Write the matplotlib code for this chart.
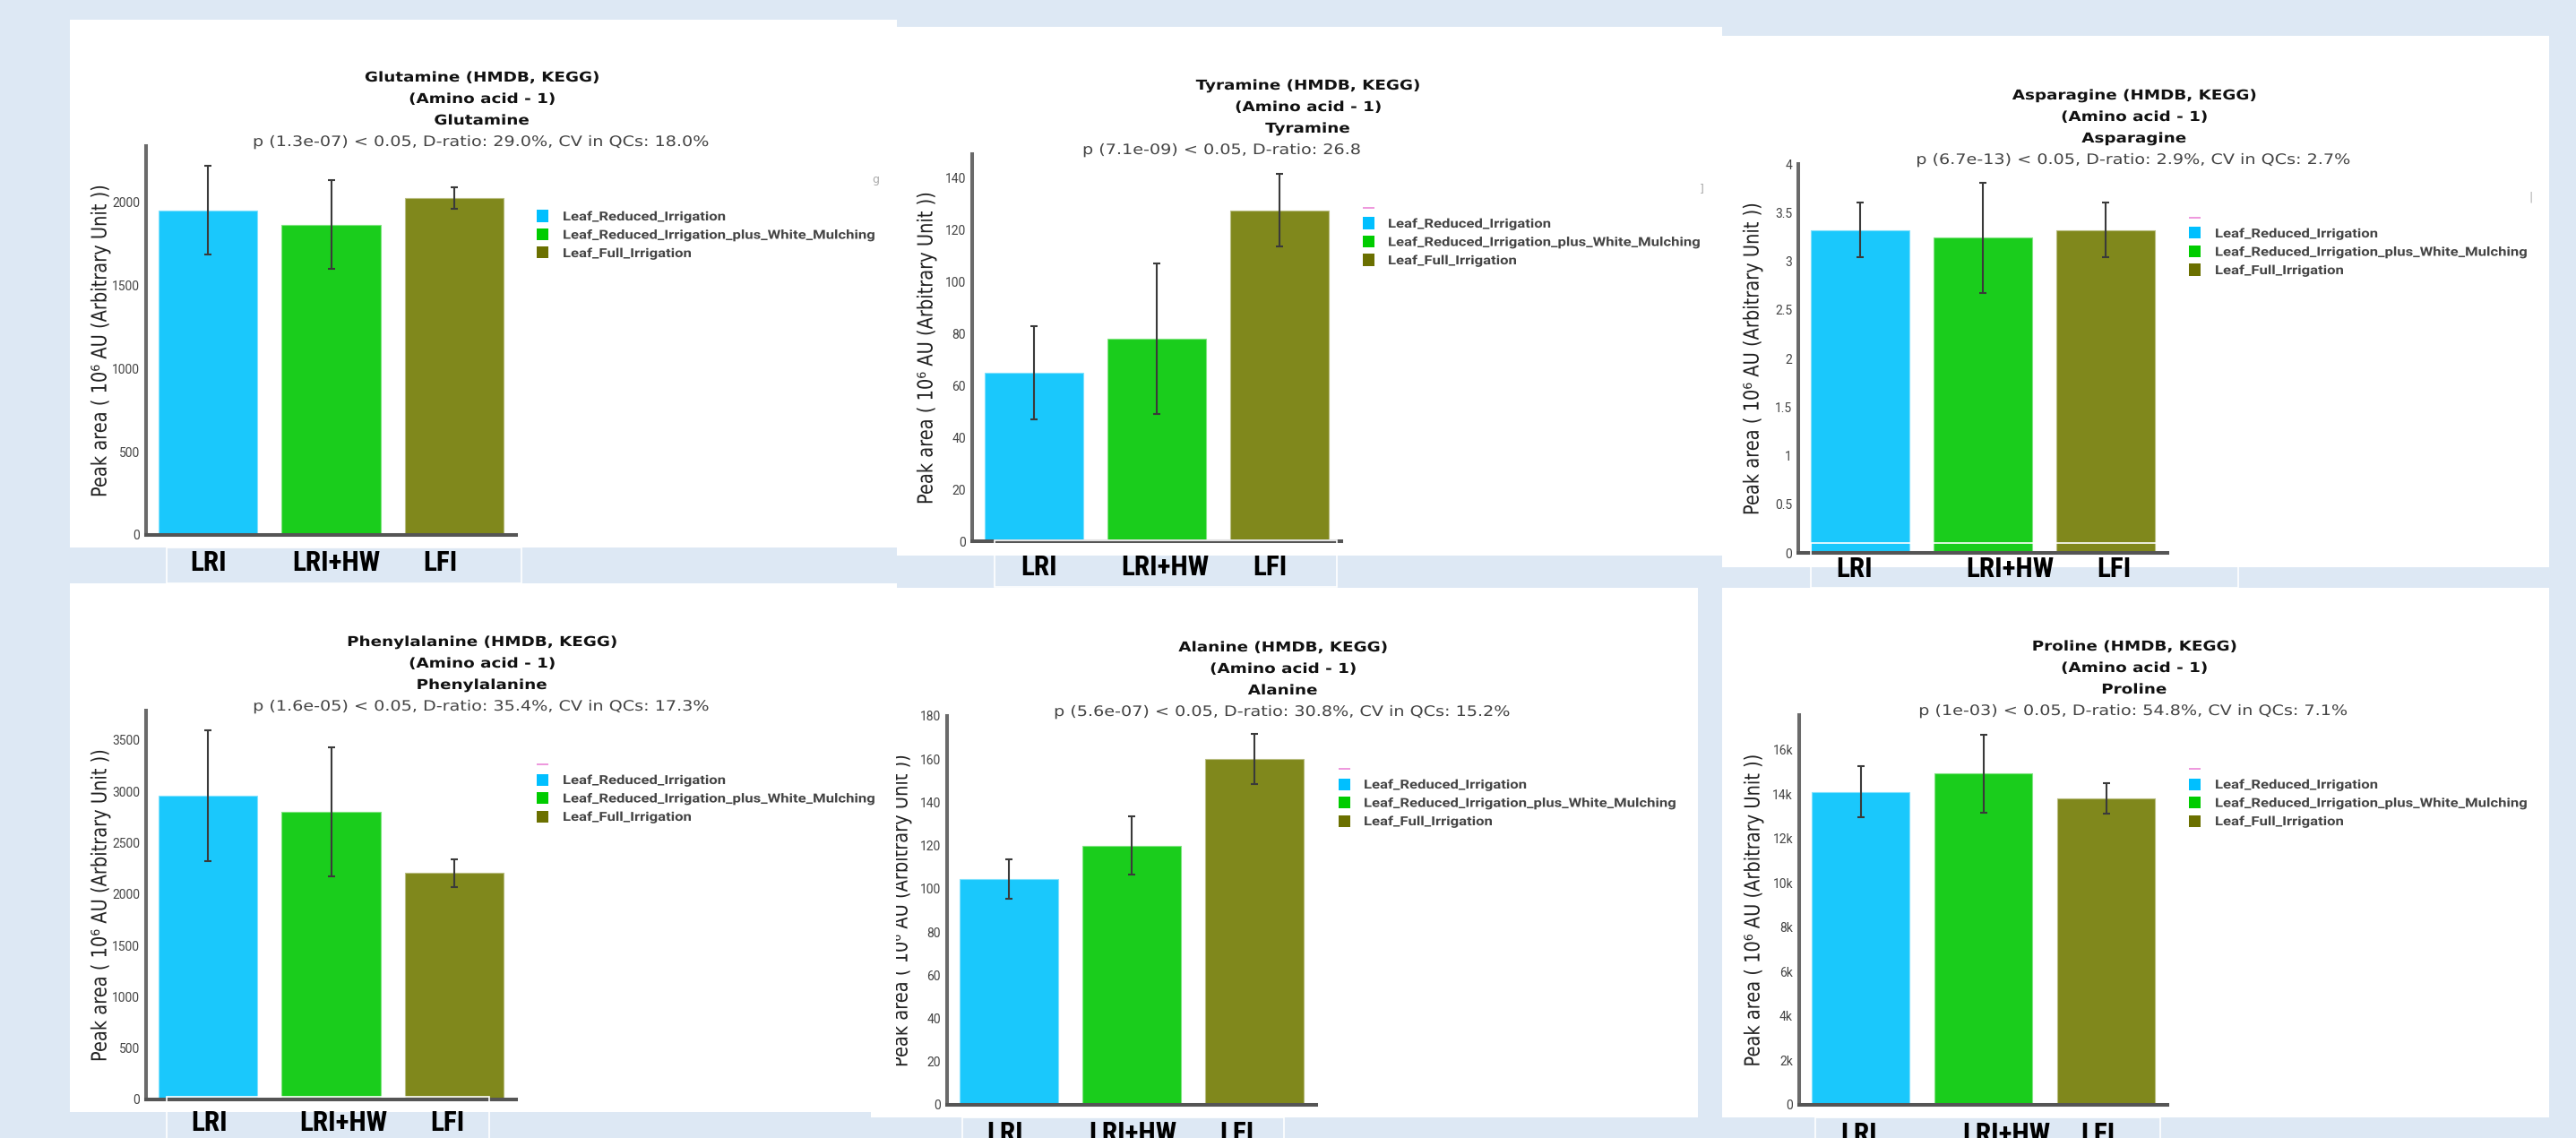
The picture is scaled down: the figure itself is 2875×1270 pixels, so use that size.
import matplotlib
matplotlib.use("Agg")
import matplotlib.pyplot as plt
from matplotlib import font_manager
from matplotlib.patches import Rectangle
from matplotlib.patheffects import AbstractPathEffect
from matplotlib.transforms import Affine2D, Bbox

# ---- data -------------------------------------------------------------
groups = ["Leaf_Reduced_Irrigation",
          "Leaf_Reduced_Irrigation_plus_White_Mulching",
          "Leaf_Full_Irrigation"]
group_abbr = ["LRI", "LRI+HW", "LFI"]

metabolites = ["Glutamine", "Tyramine", "Asparagine",
               "Phenylalanine", "Alanine", "Proline"]
compound_class = "Amino acid - 1"
p_values = ["1.3e-07", "7.1e-09", "6.7e-13", "1.6e-05", "5.6e-07", "1e-03"]
d_ratios = ["29.0%", "26.8%", "2.9%", "35.4%", "30.8%", "54.8%"]
cv_qcs = ["18.0%", "", "2.7%", "17.3%", "15.2%", "7.1%"]

# mean peak area (10^6 AU) and error bar per group
glutamine_mean = [1950, 1865, 2022]
glutamine_err = [265, 268, 64]
tyramine_mean = [65, 78, 127.5]
tyramine_err = [18, 29, 14]
asparagine_mean = [3.32, 3.24, 3.32]
asparagine_err = [0.28, 0.57, 0.28]
phenylalanine_mean = [2960, 2800, 2205]
phenylalanine_err = [640, 630, 135]
alanine_mean = [104.5, 120, 160]
alanine_err = [9, 13.5, 11.5]
proline_mean = [14100, 14930, 13800]
proline_err = [1160, 1750, 690]

glutamine_ticks = [0, 500, 1000, 1500, 2000]
tyramine_ticks = [0, 20, 40, 60, 80, 100, 120, 140]
asparagine_ticks = [0, 0.5, 1, 1.5, 2, 2.5, 3, 3.5, 4]
phenylalanine_ticks = [0, 500, 1000, 1500, 2000, 2500, 3000, 3500]
alanine_ticks = [0, 20, 40, 60, 80, 100, 120, 140, 160, 180]
proline_ticks = [0, 2000, 4000, 6000, 8000, 10000, 12000, 14000, 16000]
proline_tick_labels = ["0", "2k", "4k", "6k", "8k", "10k", "12k", "14k", "16k"]

means = [glutamine_mean, tyramine_mean, asparagine_mean,
         phenylalanine_mean, alanine_mean, proline_mean]
errors = [glutamine_err, tyramine_err, asparagine_err,
          phenylalanine_err, alanine_err, proline_err]
ticks = [glutamine_ticks, tyramine_ticks, asparagine_ticks,
         phenylalanine_ticks, alanine_ticks, proline_ticks]
tick_labels = [[f"{v:g}" for v in t] for t in ticks[:5]] + [proline_tick_labels]

ylabel = "Peak area ( 10\u2076 AU (Arbitrary Unit ))"

# ---- styling / layout (pixel boxes: left, top, right, bottom) ----------
W, H = 2875, 1270
BG = "#dde8f4"
bar_colors = ["#1ac8fc", "#1acd1c", "#80881c"]
key_colors = ["#00bfff", "#00cc00", "#6b7000"]

panels = [
    dict(card=(78, 22, 1001, 611), ax=(163, 163, 576, 597), ytop=2336,
         key=(599, 628, 241), box=(186, 611, 582, 651),
         abbr_x=(233, 375, 491), abbr_y=637, pink=False, stub=("g", 977, 204)),
    dict(card=(1001, 30, 1922, 620), ax=(1085, 172, 1497, 604), ytop=149.2,
         key=(1521, 1549, 249), box=(1110, 603, 1492, 655),
         abbr_x=(1160, 1300, 1417), abbr_y=642, pink=True,
         stat_left=1208, stat_clip=1519, stub=("]", 1899, 214)),
    dict(card=(1922, 40, 2845, 633), ax=(2007, 183, 2419, 617), ytop=4,
         key=(2443, 2472, 260), box=(2021, 606, 2498, 656),
         abbr_x=(2070, 2243, 2359), abbr_y=644, pink=True, stub=("|", 2825, 223)),
    dict(card=(78, 651, 1001, 1241), ax=(163, 793, 576, 1227), ytop=3788,
         key=(599, 628, 870), box=(186, 1224, 546, 1290),
         abbr_x=(234, 383, 499), abbr_y=1262, pink=True),
    dict(card=(972, 656, 1895, 1247), ax=(1057, 799, 1469, 1233), ytop=180,
         key=(1494, 1522, 875), box=(1074, 1247, 1433, 1290),
         abbr_x=(1122, 1264, 1380), abbr_y=1274, pink=True, ylabel_clip=1000),
    dict(card=(1922, 656, 2845, 1247), ax=(2008, 798, 2419, 1233), ytop=17560,
         key=(2443, 2472, 875), box=(2026, 1247, 2411, 1290),
         abbr_x=(2075, 2239, 2341), abbr_y=1275, pink=True),
]

installed = {f.name for f in font_manager.fontManager.ttflist}


def first_font(*names):
    for n in names:
        if n in installed:
            return n
    return "DejaVu Sans"


narrow_font = first_font("Liberation Sans Narrow", "Roboto Condensed", "Liberation Sans")
small_font = first_font("Roboto", "Liberation Sans")


class HStretch(AbstractPathEffect):
    """Widen glyph outlines horizontally about a fixed display x."""

    def __init__(self, factor, x0):
        super().__init__()
        self.factor, self.x0 = factor, x0

    def draw_path(self, renderer, gc, tpath, affine, rgbFace=None):
        widen = Affine2D().translate(-self.x0, 0).scale(self.factor, 1).translate(self.x0, 0)
        renderer.draw_path(gc, tpath, affine + widen, rgbFace)


fig = plt.figure(figsize=(W / 100, H / 100), dpi=100, facecolor=BG)


def frac(l, t, r, b):
    return [l / W, 1 - b / H, (r - l) / W, (b - t) / H]


def add_rect(l, t, r, b, **kw):
    x, y, w, h = frac(l, t, r, b)
    return fig.add_artist(Rectangle((x, y), w, h, transform=fig.transFigure, **kw))


def add_text(x, y, s, stretch=None, clip=None, **kw):
    t = fig.text(x / W, 1 - y / H, s, **kw)
    if stretch:
        t.set_path_effects([HStretch(stretch, x)])
    if clip:
        x0, x1 = clip
        t.set_clip_box(Bbox.from_extents(x0, 0, x1, H))
    return t


def lighten(hex_color, amount):
    r, g, b = matplotlib.colors.to_rgb(hex_color)
    return (r + (1 - r) * amount, g + (1 - g) * amount, b + (1 - b) * amount)


# white cards first so every chart sits on top of them
for p in panels:
    add_rect(*p["card"], facecolor="white", edgecolor="none", zorder=-2)

for i, p in enumerate(panels):
    l, t, r, b = p["ax"]
    ax = fig.add_axes(frac(l, t, r, b))
    ax.patch.set_visible(False)
    x = range(len(groups))
    ax.bar(x, means[i], width=0.8, color=bar_colors,
           edgecolor=[lighten(c, 0.45) for c in bar_colors], linewidth=0.8, zorder=2)
    ax.errorbar(x, means[i], yerr=errors[i], fmt="none", ecolor="#3a3a3a",
                elinewidth=1.5, capsize=3, capthick=1.5, zorder=3)
    ax.set_xlim(-0.5, 2.5)
    ax.set_ylim(0, p["ytop"])
    ax.set_xticks([])
    ax.set_yticks(ticks[i])
    ax.set_yticklabels(tick_labels[i], fontfamily=small_font, fontsize=10, color="#444444")
    ax.tick_params(axis="y", length=0, pad=5)
    for side in ("top", "right"):
        ax.spines[side].set_visible(False)
    ax.spines["left"].set_color("#6a6a6a")
    ax.spines["bottom"].set_color("#555555")
    ax.spines["left"].set_linewidth(2.9)
    ax.spines["bottom"].set_linewidth(2.9)

    # y axis title
    clip = (p["ylabel_clip"], W) if "ylabel_clip" in p else None
    add_text(l - 51, (t + b) / 2, ylabel, rotation=90, ha="center", va="center",
             fontsize=14, color="#222222", clip=clip, stretch=1.2)

    # three-line heading plus statistics line
    cl, _, cr, _ = p["card"]
    cx = (cl + cr) / 2 - 2
    m = metabolites[i]
    for j, line in enumerate([f"{m} (HMDB, KEGG)", f"({compound_class})", m]):
        add_text(cx, t - 72 + 24 * j, line, ha="center", va="baseline",
                 fontsize=11, fontweight="bold", color="#111111", stretch=1.2)
    stat = f"p ({p_values[i]}) < 0.05, D-ratio: {d_ratios[i]}"
    if cv_qcs[i]:
        stat += f", CV in QCs: {cv_qcs[i]}"
    if "stat_left" in p:
        add_text(p["stat_left"], t, stat, ha="left", va="baseline", fontsize=11.5,
                 color="#444444", stretch=1.2, clip=(0, p["stat_clip"]))
    else:
        add_text(cx, t, stat, ha="center", va="baseline", fontsize=11.5,
                 color="#444444", stretch=1.2)

    # legend
    sx, tx, row0 = p["key"]
    if p["pink"]:
        add_rect(sx, row0 - 18, sx + 13, row0 - 16, facecolor="#ee99dd",
                 edgecolor="none", zorder=3)
    for k, (name, c) in enumerate(zip(groups, key_colors)):
        yy = row0 + k * 20.5
        add_rect(sx, yy - 6.5, sx + 13, yy + 6.5, facecolor=c, edgecolor="none", zorder=3)
        add_text(tx, yy + 5, name, ha="left", va="baseline", fontsize=10,
                 fontweight="bold", color="#444444", family=small_font, stretch=1.2)
    if "stub" in p:
        s, xs, ys = p["stub"]
        add_text(xs, ys, s, ha="center", va="baseline", fontsize=9, color="#aaaaaa")

    # group abbreviations under the bars
    add_rect(*p["box"], fill=False, edgecolor="white", linewidth=1.2, zorder=4)
    for ab, axx in zip(group_abbr, p["abbr_x"]):
        add_text(axx, p["abbr_y"], ab, ha="center", va="baseline", fontsize=22.5,
                 fontweight="bold", family=narrow_font, color="black", zorder=6)

fig.savefig("out.png", dpi=100, facecolor=BG)
